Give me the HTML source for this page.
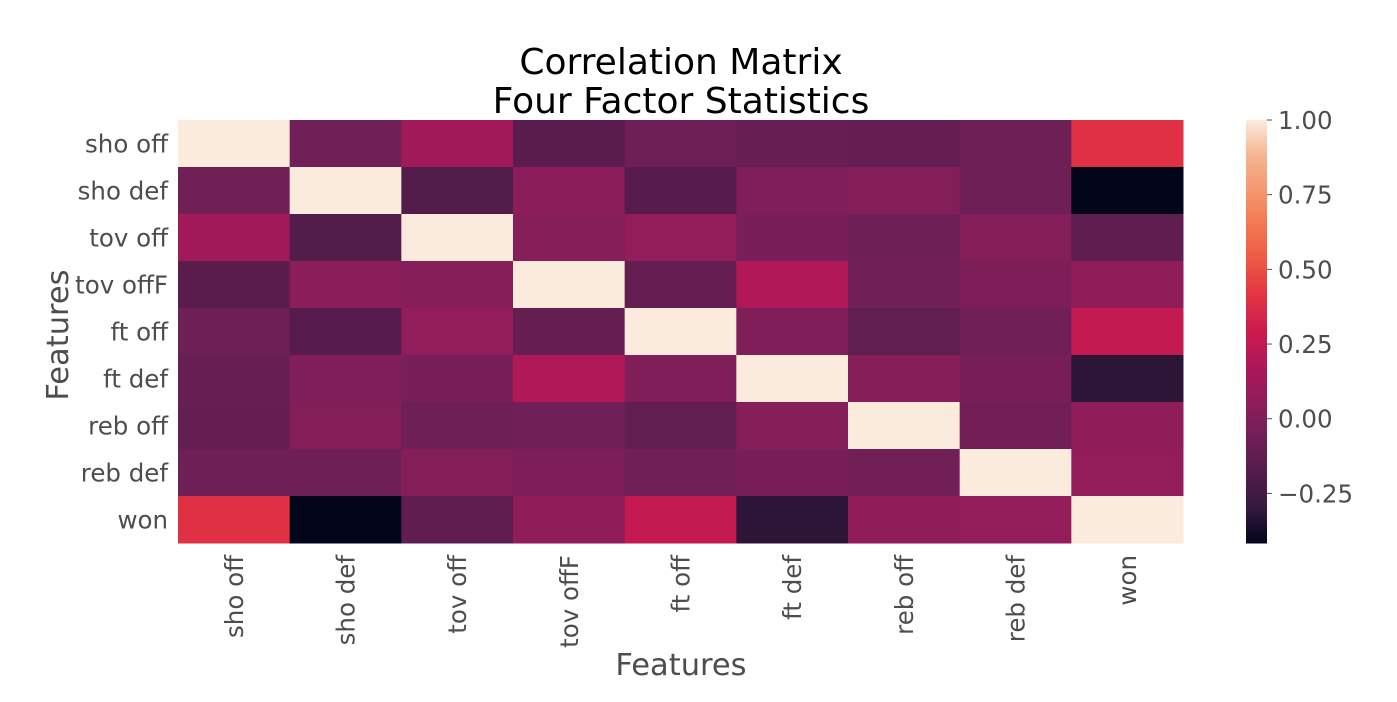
<!DOCTYPE html>
<html><head><meta charset="utf-8"><style>
body{margin:0;background:#fff;}
svg{display:block;font-family:"DejaVu Sans","Liberation Sans",sans-serif;}
</style></head><body>
<svg id="chart" width="1397" height="702">
<text x="681" y="74" text-anchor="middle" font-size="36" fill="#000">Correlation Matrix</text>
<text x="681" y="113" text-anchor="middle" font-size="36" fill="#000">Four Factor Statistics</text>
<g id="cells"></g>
<g id="xt"></g>
<g id="yt"></g>
<text x="681" y="675" text-anchor="middle" font-size="30.5" fill="#4d4d4d">Features</text>
<text x="0" y="0" transform="translate(68,335) rotate(-90)" text-anchor="middle" font-size="30.5" fill="#4d4d4d">Features</text>
<g id="cb"></g>
</svg>
<script>
const labels=["sho off","sho def","tov off","tov offF","ft off","ft def","reb off","reb def","won"];
const matrix=[
[1,-0.06,0.13,-0.15,-0.07,-0.10,-0.11,-0.07,0.40],
[-0.06,1,-0.18,0.04,-0.16,0.00,0.01,-0.07,-0.416],
[0.13,-0.18,1,0.02,0.07,-0.03,-0.07,0.01,-0.13],
[-0.15,0.04,0.02,1,-0.11,0.19,-0.06,-0.01,0.06],
[-0.07,-0.16,0.07,-0.11,1,0.00,-0.12,-0.06,0.26],
[-0.10,0.00,-0.03,0.19,0.00,1,0.02,-0.03,-0.32],
[-0.11,0.01,-0.07,-0.06,-0.12,0.02,1,-0.05,0.05],
[-0.07,-0.07,0.01,-0.01,-0.06,-0.03,-0.05,1,0.07],
[0.40,-0.416,-0.13,0.06,0.26,-0.32,0.05,0.07,1]];
const cbTicks=[1.00,0.75,0.50,0.25,0.00,-0.25];
const cbTickLabels=["1.00","0.75","0.50","0.25","0.00","\u22120.25"];
const vmin=-0.416, vmax=1.0;
const stops=[[0,[3,5,26]],[0.083,[53,25,62]],[0.167,[82,28,75]],[0.25,[112,31,87]],[0.333,[143,29,90]],[0.417,[173,23,89]],[0.5,[203,27,79]],[0.583,[225,51,66]],[0.667,[236,87,68]],[0.75,[243,118,81]],[0.833,[245,150,110]],[0.917,[246,180,143]],[1,[250,235,221]]];
function cmap(v){let t=(v-vmin)/(vmax-vmin);t=Math.max(0,Math.min(1,t));
for(let i=1;i<stops.length;i++){if(t<=stops[i][0]){const a=stops[i-1],b=stops[i];const f=(t-a[0])/(b[0]-a[0]);
const c=a[1].map((x,k)=>Math.round(x+(b[1][k]-x)*f));return `rgb(${c[0]},${c[1]},${c[2]})`;}}return "rgb(250,235,221)";}
const NS="http://www.w3.org/2000/svg";
const x0=178,x1=1183,y0=120,y1=543,n=labels.length;
const cw=(x1-x0)/n,ch=(y1-y0)/n;
const xs=i=>x0+i*cw, ys=j=>y0+j*ch;
const cells=document.getElementById('cells');
matrix.forEach((row,r)=>row.forEach((v,c)=>{
const e=document.createElementNS(NS,'rect');
e.setAttribute('x',xs(c));e.setAttribute('y',ys(r));e.setAttribute('width',cw+0.5);e.setAttribute('height',ch+0.5);e.setAttribute('fill',cmap(v));


cells.appendChild(e);}));
const xt=document.getElementById('xt'),yt=document.getElementById('yt');
labels.forEach((l,i)=>{
const t=document.createElementNS(NS,'text');
const cx=xs(i)+cw/2+9;
t.setAttribute('transform',`translate(${cx},555) rotate(-90)`);t.setAttribute('text-anchor','end');t.setAttribute('font-size','24.5');t.setAttribute('fill','#4d4d4d');t.textContent=l;


xt.appendChild(t);
const u=document.createElementNS(NS,'text');
u.setAttribute('x',168);u.setAttribute('y',ys(i)+ch/2+9);u.setAttribute('text-anchor','end');u.setAttribute('font-size','24.5');u.setAttribute('fill','#4d4d4d');u.textContent=l;


yt.appendChild(u);});
const cb=document.getElementById('cb');
const cbx=1246,cbw=21,cby0=120,cby1=543;
const cy=v=>cby1-(v-vmin)/(vmax-vmin)*(cby1-cby0);
for(let p=0;p<cby1-cby0;p++){const r=document.createElementNS(NS,'rect');
const v=vmin+(p+0.5)/(cby1-cby0)*(vmax-vmin);
r.setAttribute('x',cbx);r.setAttribute('y',cby1-p-1);r.setAttribute('width',cbw);r.setAttribute('height',1.5);r.setAttribute('fill',cmap(v));cb.appendChild(r);}
cbTicks.forEach((v,i)=>{const y=cy(v);
const l=document.createElementNS(NS,'line');l.setAttribute('x1',cbx+cbw);l.setAttribute('x2',cbx+cbw+5);l.setAttribute('y1',y);l.setAttribute('y2',y);l.setAttribute('stroke','#4d4d4d');cb.appendChild(l);
const t=document.createElementNS(NS,'text');t.setAttribute('x',1278);t.setAttribute('y',y+9);t.setAttribute('font-size','24.5');t.setAttribute('fill','#4d4d4d');t.textContent=cbTickLabels[i];


cb.appendChild(t);});
</script>
</body></html>
